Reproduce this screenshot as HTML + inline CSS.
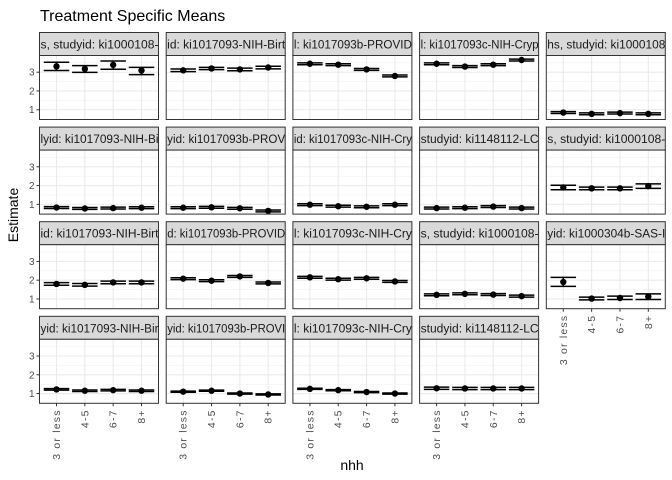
<!DOCTYPE html>
<html><head><meta charset="utf-8"><style>
html,body{margin:0;padding:0;background:#fff}
svg{display:block;font-family:"Liberation Sans",sans-serif}
</style></head><body>
<svg id="chart" width="672" height="480" viewBox="0 0 672 480" xmlns="http://www.w3.org/2000/svg">
<text x="40" y="21" font-size="16" fill="#000">Treatment Specific Means</text>
<text transform="translate(18,215) rotate(-90)" text-anchor="middle" font-size="14" fill="#000">Estimate</text>
<text x="352" y="470" text-anchor="middle" font-size="14" fill="#000">nhh</text>
<g id="panels"></g>
</svg>
<script>
const categories = ["3 or less","4-5","6-7","8+"];
const yTicks = [1,2,3];
const stripLabels = [
 "s, studyid: ki1000108-","id: ki1017093-NIH-Birt","l: ki1017093b-PROVID","l: ki1017093c-NIH-Cryp","hs, studyid: ki1000108",
 "lyid: ki1017093-NIH-Bi","yid: ki1017093b-PROV","id: ki1017093c-NIH-Cry","studyid: ki1148112-LC","s, studyid: ki1000108-",
 "id: ki1017093-NIH-Birt","d: ki1017093b-PROVID","l: ki1017093c-NIH-Cry","s, studyid: ki1000108-","yid: ki1000304b-SAS-I",
 "yid: ki1017093-NIH-Bir","yid: ki1017093b-PROVI","l: ki1017093c-NIH-Cry","studyid: ki1148112-LC"
];
const estimates = [
 [3.31,3.18,3.39,3.09],[3.10,3.20,3.15,3.25],[3.45,3.40,3.15,2.80],[3.45,3.30,3.40,3.65],[0.85,0.78,0.82,0.78],
 [0.83,0.78,0.80,0.82],[0.82,0.84,0.79,0.65],[0.98,0.90,0.87,0.98],[0.80,0.82,0.88,0.80],[1.90,1.85,1.85,1.97],
 [1.80,1.75,1.88,1.88],[2.08,1.97,2.20,1.85],[2.15,2.05,2.10,1.93],[1.22,1.27,1.23,1.15],[1.90,1.02,1.05,1.12],
 [1.22,1.15,1.18,1.15],[1.10,1.15,1.00,0.95],[1.25,1.18,1.08,1.00],[1.28,1.27,1.27,1.27]
];
const lowers = [
 [3.09,2.99,3.16,2.87],[3.03,3.14,3.08,3.18],[3.40,3.35,3.10,2.75],[3.40,3.25,3.35,3.60],[0.80,0.73,0.77,0.73],
 [0.78,0.73,0.75,0.77],[0.77,0.79,0.74,0.60],[0.93,0.85,0.82,0.93],[0.75,0.77,0.83,0.75],[1.78,1.78,1.78,1.85],
 [1.73,1.68,1.81,1.81],[2.03,1.92,2.15,1.80],[2.10,2.00,2.05,1.88],[1.17,1.22,1.18,1.10],[1.67,0.95,0.97,0.97],
 [1.18,1.11,1.14,1.11],[1.07,1.12,0.97,0.92],[1.22,1.15,1.05,0.97],[1.22,1.21,1.21,1.21]
];
const uppers = [
 [3.53,3.35,3.60,3.26],[3.17,3.26,3.22,3.32],[3.50,3.45,3.20,2.85],[3.50,3.35,3.45,3.70],[0.90,0.83,0.87,0.83],
 [0.88,0.83,0.85,0.87],[0.87,0.89,0.84,0.70],[1.03,0.95,0.92,1.03],[0.85,0.87,0.93,0.85],[2.02,1.92,1.92,2.09],
 [1.87,1.82,1.95,1.95],[2.13,2.02,2.25,1.90],[2.20,2.10,2.15,1.98],[1.27,1.32,1.28,1.20],[2.15,1.10,1.15,1.27],
 [1.26,1.19,1.22,1.19],[1.13,1.18,1.03,0.98],[1.28,1.21,1.11,1.03],[1.34,1.33,1.33,1.33]
];
const NS="http://www.w3.org/2000/svg";
const root=document.getElementById('panels');
const yMin=0.48,yMax=3.89;
const PW=119,PH=64,SH=23;
function mk(tag,attrs,parent){const e=document.createElementNS(NS,tag);for(const k in attrs)e.setAttribute(k,attrs[k]);(parent||root).appendChild(e);return e;}
const d=mk('defs',{});
stripLabels.forEach((lab,i)=>{
 const r=Math.floor(i/5),c=i%5;
 const x0=39.5+c*126.7, sy=32.5+r*94.6, py=sy+SH;
 const yS=v=>py+PH-(v-yMin)/(yMax-yMin)*PH;
 const step=PW/(categories.length-1+1.2);
 const xS=k=>x0+step*0.6+k*step;
 const g=mk('g',{});
 
 
 const cp=mk('clipPath',{id:'cp'+i},d);
 mk('rect',{x:x0,y:sy,width:PW,height:SH},cp);
 const st=mk('rect',{x:x0,y:sy,width:PW,height:SH,fill:'#d9d9d9',stroke:'#333','stroke-width':1},g);
 
 
 const tx=mk('text',{x:x0+1,y:sy+16,'font-size':11.5,fill:'#1a1a1a','clip-path':'url(#cp'+i+')',textLength:PW-1,lengthAdjust:'spacingAndGlyphs'},g);
 tx.textContent=lab;
 
 
 mk('rect',{x:x0,y:py,width:PW,height:PH,fill:'#fff'},g);
 [1.5,2.5,3.5].forEach(v=>mk('line',{x1:x0,x2:x0+PW,y1:yS(v),y2:yS(v),stroke:'#f2f2f2','stroke-width':0.6},g));
 yTicks.forEach(v=>mk('line',{x1:x0,x2:x0+PW,y1:yS(v),y2:yS(v),stroke:'#ebebeb','stroke-width':1.1},g));
 categories.forEach((c2,k)=>mk('line',{x1:xS(k),x2:xS(k),y1:py,y2:py+PH,stroke:'#ebebeb','stroke-width':1.1},g));
 categories.forEach((c2,k)=>{
  const cx=xS(k),hw=step*0.45;
  const eb=mk('g',{},g);
  
  
  mk('line',{x1:cx-hw,x2:cx+hw,y1:yS(lowers[i][k]),y2:yS(lowers[i][k]),stroke:'#000','stroke-width':1.5},eb);
  mk('line',{x1:cx-hw,x2:cx+hw,y1:yS(uppers[i][k]),y2:yS(uppers[i][k]),stroke:'#000','stroke-width':1.5},eb);
  mk('line',{x1:cx,x2:cx,y1:yS(lowers[i][k]),y2:yS(uppers[i][k]),stroke:'#000','stroke-width':1.5},eb);
  const p=mk('circle',{cx:cx,cy:yS(estimates[i][k]),r:3.2,fill:'#000'},g);
  
  
 });
 mk('rect',{x:x0,y:py,width:PW,height:PH,fill:'none',stroke:'#333','stroke-width':1},g);
 if(c===0){
  yTicks.forEach(v=>{
   mk('line',{x1:x0-3,x2:x0,y1:yS(v),y2:yS(v),stroke:'#333','stroke-width':1},g);
   const t=mk('text',{x:x0-5,y:yS(v)+3.5,'text-anchor':'end','font-size':10,fill:'#4d4d4d'},g);
   t.textContent=v;
   
   
  });
 }
 if(r===3||i===14){
  categories.forEach((c2,k)=>{
   mk('line',{x1:xS(k),x2:xS(k),y1:py+PH,y2:py+PH+3,stroke:'#333','stroke-width':1},g);
   const t=mk('text',{transform:`translate(${xS(k)+3.5},${py+PH+6}) rotate(-90)`,'text-anchor':'end','font-size':10.5,'letter-spacing':'1.2',fill:'#4d4d4d'},g);
   t.textContent=c2;
   
   
  });
 }
});
</script>
</body></html>
